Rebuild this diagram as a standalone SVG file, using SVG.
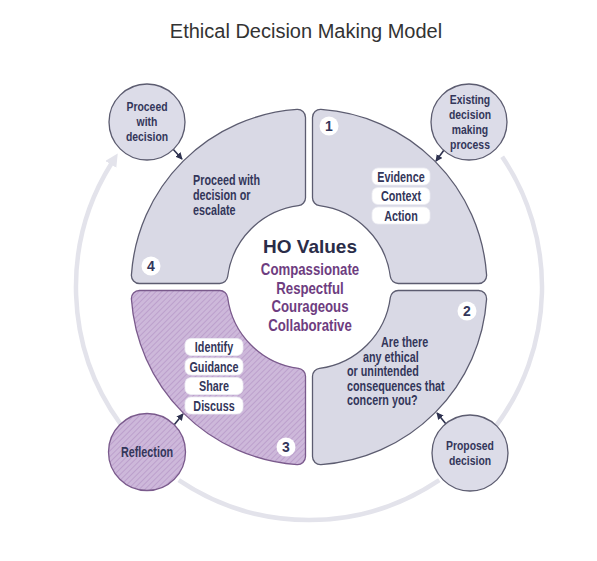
<svg xmlns="http://www.w3.org/2000/svg" width="597" height="561" viewBox="0 0 597 561">
<style>
.t{font-family:"Liberation Sans",Arial,sans-serif;font-weight:bold;font-size:14px;fill:#33365a}
.s{font-size:13px}
.c{text-anchor:middle}
.q{fill:#d9d9e5;stroke:#5c5c70;stroke-width:1.3}
.qh{fill:url(#hatch);stroke:#7a5a8c;stroke-width:1.3}
.sc{fill:#dcdce8;stroke:#5c5c70;stroke-width:1.3}
.pill{fill:#ffffff;stroke:#ececf2;stroke-width:0.8}
.badge{fill:#ffffff}
.ring{fill:none;stroke:#e3e3eb;stroke-width:4.5}
.arr{stroke:#2e3250;stroke-width:1.6;fill:none}
.v{font-family:"Liberation Sans",Arial,sans-serif;font-weight:bold;font-size:16.5px;fill:#6e3d80;text-anchor:middle}
</style>
<defs>
<pattern id="hatch" patternUnits="userSpaceOnUse" width="4" height="4" patternTransform="rotate(45)">
<rect width="4" height="4" fill="#cdb8da"/>
<line x1="0" y1="0" x2="0" y2="4" stroke="#b596c6" stroke-width="1.4"/>
</pattern>
<marker id="ah" viewBox="0 0 8 8" refX="7" refY="4" markerWidth="7" markerHeight="7" markerUnits="userSpaceOnUse" orient="auto">
<path d="M0,0 L8,4 L0,8 z" fill="#2e3250"/>
</marker>
<marker id="bh" viewBox="0 0 12 12" refX="1" refY="6" markerWidth="13" markerHeight="13" markerUnits="userSpaceOnUse" orient="auto">
<path d="M0,0 L12,6 L0,12 z" fill="#e3e3eb"/>
</marker>
</defs>
<rect width="597" height="561" fill="#ffffff"/>
<text x="306" y="38" font-family="Liberation Sans, Arial, sans-serif" font-size="20" fill="#333333" text-anchor="middle">Ethical Decision Making Model</text>

<g id="connectors">
<path class="ring" d="M120.5,424 A233,233 0 0 1 111.4,163.5" marker-end="url(#bh)"/>
<path class="ring" d="M502.2,156.7 A233,233 0 0 1 495.1,427.2"/>
<path class="ring" d="M439.3,480.2 A233,233 0 0 1 178.7,480.2"/>
<line class="arr" x1="172" y1="148" x2="182" y2="159" marker-end="url(#ah)"/>
<line class="arr" x1="444" y1="150" x2="436" y2="161" marker-end="url(#ah)"/>
<line class="arr" x1="174" y1="425" x2="183" y2="414" marker-end="url(#ah)"/>
<line class="arr" x1="446" y1="424" x2="437" y2="413" marker-end="url(#ah)"/>
</g>

<g id="q1">
<path class="q" d="M312.5,117.39 A8,8 0 0 1 321.04,109.41 A178,178 0 0 1 486.59,274.96 A8,8 0 0 1 478.61,283.5 L398.26,283.5 A8,8 0 0 1 390.33,276.52 A82,82 0 0 0 319.48,205.67 A8,8 0 0 1 312.5,197.74 Z"/>
<circle class="badge" cx="329" cy="126" r="9.5"/>
<text class="t c" x="329" y="130.5" font-size="12">1</text>
<rect class="pill" x="372" y="168" width="58" height="17" rx="6"/>
<rect class="pill" x="372" y="187.5" width="58" height="17" rx="6"/>
<rect class="pill" x="372" y="207" width="58" height="17" rx="6"/>
<text class="t c" transform="translate(401,181.5) scale(0.77,1)">Evidence</text>
<text class="t c" transform="translate(401,201) scale(0.77,1)">Context</text>
<text class="t c" transform="translate(401,220.5) scale(0.77,1)">Action</text>
</g>

<g id="q2">
<path class="q" d="M312.5,456.61 A8,8 0 0 0 321.04,464.59 A178,178 0 0 0 486.59,299.04 A8,8 0 0 0 478.61,290.5 L398.26,290.5 A8,8 0 0 0 390.33,297.48 A82,82 0 0 1 319.48,368.33 A8,8 0 0 0 312.5,376.26 Z"/>
<circle class="badge" cx="467" cy="311" r="9.5"/>
<text class="t c" x="467" y="315.5" font-size="12">2</text>
<text class="t" transform="translate(381,347) scale(0.77,1)">Are there</text>
<text class="t" transform="translate(363,361.5) scale(0.77,1)">any ethical</text>
<text class="t" transform="translate(347,376) scale(0.77,1)">or unintended</text>
<text class="t" transform="translate(347,390.5) scale(0.77,1)">consequences that</text>
<text class="t" transform="translate(347,405) scale(0.77,1)">concern you?</text>
</g>

<g id="q3">
<path class="qh" d="M305.5,456.61 A8,8 0 0 1 296.96,464.59 A178,178 0 0 1 131.41,299.04 A8,8 0 0 1 139.39,290.5 L219.74,290.5 A8,8 0 0 1 227.67,297.48 A82,82 0 0 0 298.52,368.33 A8,8 0 0 1 305.5,376.26 Z"/>
<circle class="badge" cx="286" cy="447" r="9.5"/>
<text class="t c" x="286" y="451.5" font-size="12">3</text>
<rect class="pill" x="185" y="338.5" width="58" height="17" rx="6"/>
<rect class="pill" x="185" y="358" width="58" height="17" rx="6"/>
<rect class="pill" x="185" y="377.5" width="58" height="17" rx="6"/>
<rect class="pill" x="185" y="397" width="58" height="17" rx="6"/>
<text class="t c" transform="translate(214,352) scale(0.77,1)">Identify</text>
<text class="t c" transform="translate(214,371.5) scale(0.77,1)">Guidance</text>
<text class="t c" transform="translate(214,391) scale(0.77,1)">Share</text>
<text class="t c" transform="translate(214,410.5) scale(0.77,1)">Discuss</text>
</g>

<g id="q4">
<path class="q" d="M305.5,117.39 A8,8 0 0 0 296.96,109.41 A178,178 0 0 0 131.41,274.96 A8,8 0 0 0 139.39,283.5 L219.74,283.5 A8,8 0 0 0 227.67,276.52 A82,82 0 0 1 298.52,205.67 A8,8 0 0 0 305.5,197.74 Z"/>
<circle class="badge" cx="151" cy="266" r="9.5"/>
<text class="t c" x="151" y="270.5" font-size="12">4</text>
<text class="t" transform="translate(193,185) scale(0.77,1)">Proceed with</text>
<text class="t" transform="translate(193,200) scale(0.77,1)">decision or</text>
<text class="t" transform="translate(193,215) scale(0.77,1)">escalate</text>
</g>

<g id="center">
<text x="310" y="253" font-family="Liberation Sans, Arial, sans-serif" font-weight="bold" font-size="19" fill="#2a2c48" text-anchor="middle">HO Values</text>
<text class="v" transform="translate(310,275) scale(0.8,1)">Compassionate</text>
<text class="v" transform="translate(310,293.5) scale(0.8,1)">Respectful</text>
<text class="v" transform="translate(310,312) scale(0.8,1)">Courageous</text>
<text class="v" transform="translate(310,330.5) scale(0.8,1)">Collaborative</text>
</g>

<g id="proceed">
<circle class="sc" cx="147" cy="122" r="38"/>
<text class="t s c" transform="translate(147,111) scale(0.8,1)">Proceed</text>
<text class="t s c" transform="translate(147,126) scale(0.8,1)">with</text>
<text class="t s c" transform="translate(147,141) scale(0.8,1)">decision</text>
</g>

<g id="existing">
<circle class="sc" cx="469" cy="122" r="38"/>
<text class="t s c" transform="translate(470,104) scale(0.8,1)">Existing</text>
<text class="t s c" transform="translate(470,119) scale(0.8,1)">decision</text>
<text class="t s c" transform="translate(470,134) scale(0.8,1)">making</text>
<text class="t s c" transform="translate(470,149) scale(0.8,1)">process</text>
</g>

<g id="reflection">
<circle class="qh" cx="147" cy="452" r="38.5"/>
<text class="t c" transform="translate(147,457) scale(0.77,1)">Reflection</text>
</g>

<g id="proposed">
<circle class="sc" cx="470" cy="453" r="38"/>
<text class="t s c" transform="translate(470,449.5) scale(0.8,1)">Proposed</text>
<text class="t s c" transform="translate(470,464.5) scale(0.8,1)">decision</text>
</g>
</svg>
